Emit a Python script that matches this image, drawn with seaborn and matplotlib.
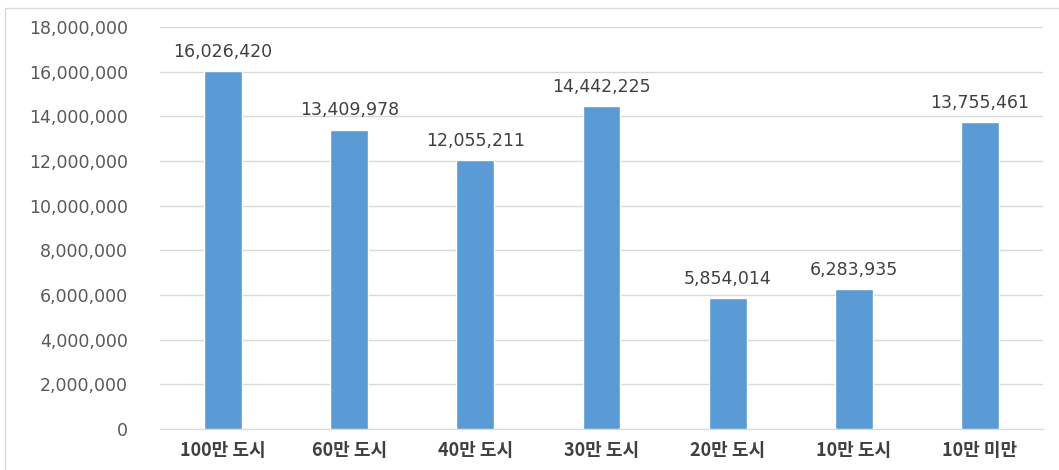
import numpy as np
import pandas as pd
import seaborn as sns
import matplotlib.pyplot as plt
from matplotlib.patches import Rectangle
from matplotlib.ticker import FuncFormatter

# Data
categories = ['100만 도시', '60만 도시', '40만 도시', '30만 도시', '20만 도시', '10만 도시', '10만 미만']
values = [16026420, 13409978, 12055211, 14442225, 5854014, 6283935, 13755461]

df = pd.DataFrame({'city': categories, 'value': values})

sns.set_style('white')
plt.rcParams['font.family'] = ['Noto Sans CJK KR', 'DejaVu Sans']

fig = plt.figure(figsize=(10.59, 4.70), dpi=100)
ax = fig.add_axes([160 / 1059, 1 - 429 / 470, 883 / 1059, 402 / 470])

sns.barplot(data=df, x='city', y='value', color='#5B9BD5', width=0.3,
            saturation=1, ax=ax, zorder=3)

ax.set_ylim(0, 18000000)
ax.set_yticks(np.arange(0, 18000001, 2000000))
ax.yaxis.set_major_formatter(FuncFormatter(lambda v, p: f'{int(v):,}'))
ax.grid(axis='y', color='#D9D9D9', linewidth=1, zorder=0)
ax.set_xlim(-0.5, len(categories) - 0.5)

for s in ['top', 'right', 'left']:
    ax.spines[s].set_visible(False)
ax.spines['bottom'].set_color('#D9D9D9')

ax.tick_params(axis='y', length=0, pad=23, labelcolor='#595959')
ax.tick_params(axis='x', length=0, pad=9, labelcolor='#404040')
for lbl in ax.get_xticklabels():
    lbl.set_fontweight('bold')
    lbl.set_fontsize(13)
for lbl in ax.get_yticklabels():
    lbl.set_family(['DejaVu Sans'])
    lbl.set_fontsize(12.5)

ax.set_xlabel('')
ax.set_ylabel('')

for i, v in enumerate(values):
    ax.text(i, v + 450000, f'{v:,}', ha='center', va='bottom',
            fontsize=12.5, color='#404040', family=['DejaVu Sans'])

# light chart-area border
fig.patches.append(Rectangle((5 / 1059, -0.01), 1.02, 1 - 8 / 470 + 0.01,
                             transform=fig.transFigure, fill=False,
                             edgecolor='#D9D9D9', linewidth=1))

fig.savefig('out.png', dpi=100)
